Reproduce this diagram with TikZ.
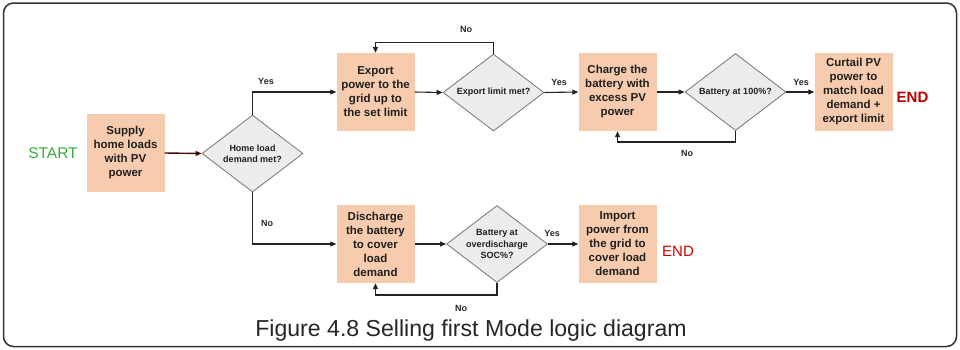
\documentclass[tikz,border=0pt]{standalone}
\usepackage{fontspec}
\setmainfont{Liberation Sans}
\usetikzlibrary{shapes.geometric,arrows.meta}
\definecolor{boxfill}{RGB}{247,203,173}
\definecolor{diafill}{RGB}{236,236,236}
\definecolor{diaedge}{RGB}{128,128,128}
\definecolor{lineclr}{RGB}{34,34,34}
\definecolor{firstarrow}{RGB}{70,12,12}
\definecolor{startgreen}{RGB}{58,170,64}
\definecolor{endred}{RGB}{185,0,0}
\definecolor{endred2}{RGB}{205,0,0}
\definecolor{frameclr}{RGB}{50,50,50}
\begin{document}
\begin{tikzpicture}[x=1pt,y=-1pt,
  stepbox/.style={fill=boxfill, minimum width=78pt, minimum height=78pt, inner sep=0pt,
    align=center, text=black!88, font=\fontsize{11.5}{14}\selectfont\bfseries},
  decision/.style={diamond, draw=diaedge, fill=diafill, line width=0.9pt,
    minimum width=101pt, minimum height=77pt, inner sep=0pt},
  dtext/.style={align=center, inner sep=0pt, text=black!88,
    font=\fontsize{9}{11.3}\selectfont\bfseries},
  yn/.style={inner sep=0pt, text=black!85, font=\fontsize{9}{11}\selectfont\bfseries},
  arr/.style={draw=lineclr, line width=1.1pt, -{Triangle[length=6pt,width=5pt]}},
]
\useasboundingbox (0,0) rectangle (960,349);
\draw[frameclr, line width=1.5pt, rounded corners=10pt] (3.5,3) rectangle (956.5,346.5);

% nodes
\node[text=startgreen, font=\fontsize{15.5}{18}\selectfont] (start) at (53,153.5) {START};
\node[stepbox] (sup) at (125.5,153) {Supply\\home loads\\with PV\\power};
\node[decision] (d1) at (252.5,153.5) {};
\node[dtext] (d1t) at (d1) {Home load\\demand met?};
\node[stepbox] (exp) at (375.5,92) {Export\\power to the\\grid up to\\the set limit};
\node[decision] (d2) at (493.5,92.5) {};
\node[dtext] (d2t) at (d2) {Export limit met?};
\node[stepbox] (chg) at (617.5,92) {Charge the\\battery with\\excess PV\\power};
\node[decision] (d3) at (735.5,92) {};
\node[dtext] (d3t) at (d3) {Battery at 100\%?};
\node[stepbox] (cur) at (853.5,92) {Curtail PV\\power to\\match load\\demand +\\export limit};
\node[text=endred, font=\fontsize{15}{18}\selectfont\bfseries] (end1) at (912.5,97.5) {END};

\node[stepbox] (dis) at (375.5,244) {Discharge\\the battery\\to cover\\load\\demand};
\node[decision] (d4) at (497,244) {};
\node[dtext] (d4t) at (d4) {Battery at\\overdischarge\\SOC\%?};
\node[stepbox] (imp) at (617.5,244) {Import\\power from\\the grid to\\cover load\\demand};
\node[text=endred2, font=\fontsize{15}{18}\selectfont] (end2) at (678,251) {END};

% connectors
\draw[arr, draw=firstarrow, line width=1.4pt] (sup.east) -- (d1.west);
\draw[arr] (d1.north) |- (exp.west);
\draw[arr] (d1.south) |- (dis.west);
\draw[arr] (exp.east) -- (d2.west);
\draw[arr] (d2.north) -- ++(0,-11) -| (exp.north);
\draw[arr] (d2.east) -- (chg.west);
\draw[arr] (chg.east) -- (d3.west);
\draw[arr] (d3.south) -- ++(0,11) -| (chg.south);
\draw[arr] (d3.east) -- (cur.west);
\draw[arr] (dis.east) -- (d4.west);
\draw[arr] (d4.east) -- (imp.west);
\draw[arr] (d4.south) -- ++(0,12) -| (dis.south);

% labels
\node[yn] (l1) at (266,81) {Yes};
\node[yn] (l2) at (267,223) {No};
\node[yn] (l3) at (466,29) {No};
\node[yn] (l4) at (559,82) {Yes};
\node[yn] (l5) at (687,153) {No};
\node[yn] (l6) at (801,82) {Yes};
\node[yn] (l7) at (552,233) {Yes};
\node[yn] (l8) at (461,308) {No};

% caption
\node[anchor=base, inner sep=0pt, text=black!85, font=\fontsize{23.1}{26}\selectfont] (cap) at (471,336.7) {Figure 4.8 Selling first Mode logic diagram};
\end{tikzpicture}
\end{document}
